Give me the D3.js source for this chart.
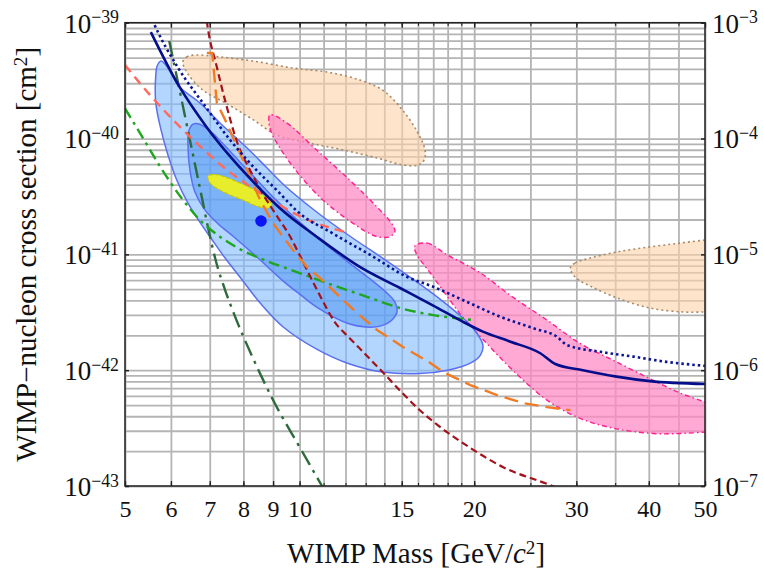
<!DOCTYPE html>
<html>
<head>
<meta charset="utf-8">
<script src="https://cdn.jsdelivr.net/npm/d3@7"></script>
<style>
  body { margin: 0; background: #fff; }
  svg { font-family: "Liberation Serif", "DejaVu Serif", serif; }
</style>
</head>
<body>
<div id="chart"></div>
<script>
// ---- axis / tick data ----
const xTickLabels = [5, 6, 7, 8, 9, 10, 15, 20, 30, 40, 50];
const xGridValues = [5, 6, 7, 8, 9, 10, 11, 12, 13, 14, 15, 16, 17, 18, 19, 20, 25, 30, 35, 40, 45, 50];
const yTickExps = [-43, -42, -41, -40, -39];
const yRightExps = [-7, -6, -5, -4, -3];
const yGridMultipliers = [1, 2, 3, 4, 5, 6, 7, 8, 9];

// ---- limit curves (mass GeV, cross section cm^2) ----
const siLimitMass = [5.54, 6.18, 6.91, 7.59, 8.22, 9.25, 10.7, 12.7, 14.9, 17.0, 18.9, 20.7, 23.1, 26.0, 27.6, 30.8, 35.2, 40.2, 50];
const siLimitSigma = [8.3e-40, 2.9e-40, 1.26e-40, 7.0e-41, 4.5e-41, 2.5e-41, 1.42e-41, 7.8e-42, 5.12e-42, 3.61e-42, 2.7e-42, 2.15e-42, 1.76e-42, 1.40e-42, 1.13e-42, 1.0e-42, 8.8e-43, 8.05e-43, 7.6e-43];

const siPrevMass = [5.48, 5.60, 6.18, 6.82, 7.59, 8.32, 9.13, 10.0, 11.4, 13.4, 15.3, 17.0, 19.4, 22.2, 25.3, 27.8, 28.9, 33.0, 37.6, 42.9, 50];
const siPrevSigma = [1.29e-39, 1.0e-39, 4.04e-40, 2.01e-40, 9.7e-41, 5.71e-41, 3.59e-41, 2.26e-41, 1.52e-41, 9.53e-42, 6.41e-42, 5.25e-42, 3.90e-42, 2.89e-42, 2.30e-42, 1.94e-42, 1.65e-42, 1.44e-42, 1.31e-42, 1.18e-42, 1.09e-42];

const salmonMass = [5.0, 5.52, 6.10, 6.73, 7.35, 8.05, 8.89, 10.0, 11.06, 11.97];
const salmonSigma = [4.31e-40, 2.38e-40, 1.39e-40, 8.61e-41, 5.79e-41, 4.13e-41, 3.01e-41, 2.14e-41, 1.75e-41, 1.56e-41];

const greenMass = [5.0, 5.37, 5.74, 6.22, 6.73, 7.29, 7.89, 8.79, 10.0, 11.4, 13.1, 14.9, 17.0, 19.9];
const greenSigma = [1.82e-40, 1.01e-40, 5.79e-41, 3.19e-41, 1.98e-41, 1.42e-41, 1.11e-41, 8.75e-42, 6.90e-42, 5.43e-42, 4.28e-42, 3.44e-42, 2.99e-42, 2.71e-42];

const dkGreenMass = [5.96, 6.22, 6.47, 6.76, 6.95, 7.18, 7.44, 7.71, 8.31, 9.0, 10.0, 10.93, 11.3];
const dkGreenSigma = [6.95e-40, 2.52e-40, 9.7e-41, 3.38e-41, 1.72e-41, 8.59e-42, 4.92e-42, 3.05e-42, 1.27e-42, 5.52e-43, 2.17e-43, 1.0e-43, 7.5e-44];

const dkRedMass = [6.88, 6.92, 7.20, 7.50, 7.80, 8.22, 8.65, 9.14, 9.62, 10.0, 10.85, 11.5, 12.2, 12.97, 13.9, 15.1, 16.1, 17.3, 19.7, 22.4, 27.0, 28.7];
const dkRedSigma = [1.3e-39, 1.03e-39, 4.14e-40, 1.83e-40, 9.33e-41, 5.3e-41, 3.3e-41, 2.14e-41, 1.44e-41, 9.86e-42, 4.37e-42, 2.60e-42, 1.89e-42, 1.38e-42, 9.63e-43, 6.22e-43, 4.53e-43, 3.36e-43, 2.13e-43, 1.46e-43, 1.02e-43, 9e-44];

const orangeMass = [6.92, 7.07, 7.12, 7.20, 7.44, 7.67, 7.89, 8.22, 8.55, 9.0, 9.37, 9.74, 10.3, 10.85, 11.74, 12.56, 13.6, 15.1, 16.6, 17.7, 19.7, 21.9, 24.3, 26.7, 29.3];
const orangeSigma = [5.47e-40, 5.47e-40, 3.68e-40, 2.03e-40, 1.45e-40, 1.03e-40, 7.5e-41, 4.66e-41, 2.94e-41, 1.86e-41, 1.41e-41, 1.09e-41, 7.77e-42, 6.24e-42, 4.28e-42, 3.11e-42, 2.22e-42, 1.58e-42, 1.20e-42, 9.6e-43, 7.43e-43, 6.10e-43, 5.2e-43, 4.8e-43, 4.52e-43];

// ---- allowed regions (closed contours) ----
const blueOuterMass = [5.68, 5.77, 5.88, 6.03, 6.18, 6.73, 7.29, 8.12, 8.79, 9.44, 10.7, 12.2, 13.9, 14.9, 16.1, 17.46, 18.7, 19.9, 20.7, 20.5, 19.7, 18.0, 16.1, 13.9, 12.2, 10.7, 9.37, 8.55, 7.89, 7.44, 7.07, 6.73, 6.42, 6.14, 5.93, 5.77, 5.65, 5.65];
const blueOuterSigma = [4.23e-40, 4.67e-40, 4.31e-40, 3.53e-40, 2.84e-40, 2.03e-40, 1.36e-40, 8.28e-41, 5.56e-41, 3.89e-41, 2.32e-41, 1.44e-41, 9.29e-42, 7.32e-42, 5.56e-42, 4.11e-42, 3.11e-42, 2.31e-42, 1.65e-42, 1.35e-42, 1.15e-42, 1.0e-42, 9.35e-43, 9.63e-43, 1.13e-42, 1.52e-42, 2.36e-42, 3.80e-42, 6.37e-42, 9.29e-42, 1.33e-41, 1.90e-41, 2.77e-41, 4.38e-41, 7.2e-41, 1.18e-40, 2.03e-40, 3.53e-40];

const blueInnerMass = [6.42, 6.47, 6.60, 6.87, 7.24, 7.67, 8.44, 9.37, 10.0, 10.7, 12.2, 13.0, 13.77, 14.43, 14.72, 14.6, 14.09, 13.1, 11.4, 10.0, 9.0, 8.38, 7.89, 7.44, 7.07, 6.73, 6.55, 6.44];
const blueInnerSigma = [8.79e-41, 5.35e-41, 3.45e-41, 2.41e-41, 1.83e-41, 1.44e-41, 9.48e-42, 5.88e-42, 4.54e-42, 3.51e-42, 2.50e-42, 2.36e-42, 2.40e-42, 2.71e-42, 3.18e-42, 3.87e-42, 4.72e-42, 6.37e-42, 1.09e-41, 1.90e-41, 3.12e-41, 4.56e-41, 6.27e-41, 8.61e-41, 1.12e-40, 1.33e-40, 1.33e-40, 1.16e-40];

const yellowMass = [6.95, 7.14, 7.44, 7.89, 8.38, 8.72, 8.96, 8.82, 8.44, 7.99, 7.59, 7.24, 7.01];
const yellowSigma = [4.74e-41, 4.89e-41, 4.66e-41, 4.13e-41, 3.59e-41, 3.12e-41, 2.67e-41, 2.51e-41, 2.61e-41, 2.94e-41, 3.25e-41, 3.66e-41, 4.13e-41];

const tanUpperMass = [6.29, 6.39, 6.60, 7.29, 8.32, 9.74, 11.15, 12.7, 13.9, 14.9, 15.9, 16.45, 16.4, 16.0, 15.1, 13.6, 11.9, 10.4, 9.14, 8.32, 7.50, 6.81, 6.42];
const tanUpperSigma = [4.58e-40, 5.06e-40, 5.26e-40, 5.06e-40, 4.67e-40, 4.06e-40, 3.75e-40, 3.20e-40, 2.62e-40, 1.87e-40, 1.18e-40, 7.96e-41, 6.53e-41, 5.90e-41, 5.90e-41, 6.79e-41, 7.96e-41, 9.14e-41, 1.07e-40, 1.45e-40, 1.99e-40, 2.62e-40, 3.61e-40];

const tanRightMass = [29.3, 29.85, 31.7, 35.3, 40.2, 45.3, 50, 53, 53, 50, 45.8, 40.2, 35.3, 31.7, 29.85];
const tanRightSigma = [7.62e-42, 8.41e-42, 9.29e-42, 1.05e-41, 1.16e-41, 1.25e-41, 1.33e-41, 1.38e-41, 3.18e-42, 3.18e-42, 3.18e-42, 3.44e-42, 4.2e-42, 5.32e-42, 6.37e-42];

const pinkUpperMass = [8.89, 9.51, 10.7, 12.2, 13.6, 14.43, 14.6, 14.2, 13.5, 12.2, 10.97, 10.0, 9.25, 8.89];
const pinkUpperSigma = [1.60e-40, 1.36e-40, 7.96e-41, 4.38e-41, 2.56e-41, 1.83e-41, 1.56e-41, 1.41e-41, 1.44e-41, 1.94e-41, 2.94e-41, 4.84e-41, 8.28e-41, 1.23e-40];

const pinkLowerMass = [15.8, 16.6, 18.0, 20.5, 23.3, 26.7, 30.4, 34.7, 39.7, 45.3, 50, 53, 53, 50, 45.3, 40.7, 34.7, 30.4, 26.7, 23.3, 21.0, 19.1, 18.0, 16.8, 15.9];
const pinkLowerSigma = [1.18e-41, 1.25e-41, 9.86e-42, 6.9e-42, 4.28e-42, 2.71e-42, 1.71e-42, 1.22e-42, 8.7e-43, 6.34e-43, 5.31e-43, 4.71e-43, 2.98e-43, 2.92e-43, 2.84e-43, 2.84e-43, 3.16e-43, 3.85e-43, 5.52e-43, 1.0e-42, 1.71e-42, 2.88e-42, 4.28e-42, 6.9e-42, 1.01e-41];

const bestFitMass = [8.58];
const bestFitSigma = [1.94e-41];

// ---- layout ----
const W = 763, H = 573;
const X0 = 125, X1 = 705, Y0 = 22.7, Y1 = 486;

const svg = d3.select("#chart").append("svg")
  .attr("width", W)
  .attr("height", H);

const x = d3.scaleLog().domain([5, 50]).range([X0, X1]);
const y = d3.scaleLog().domain([1e-43, 1e-39]).range([Y1, Y0]);
const yR = d3.scaleLog().domain([1e-7, 1e-3]).range([Y1, Y0]);

const zip = (ms, ss) => ms.map((m, i) => [m, ss[i]]);

// grid
const yGrid = [];
yTickExps.slice(0, -1).forEach(e => yGridMultipliers.forEach(k => yGrid.push(k * Math.pow(10, e))));
yGrid.push(1e-39);

svg.append("g")
  .attr("transform", `translate(0,${Y1})`)
  .call(d3.axisBottom(x).tickValues(xGridValues).tickSize(-(Y1 - Y0)).tickFormat(""))
  .call(g => g.select(".domain").remove())
  .selectAll("line").attr("stroke", "#b4b4b4").attr("stroke-width", 1.8);

svg.append("g")
  .attr("transform", `translate(${X0},0)`)
  .call(d3.axisLeft(y).tickValues(yGrid).tickSize(-(X1 - X0)).tickFormat(""))
  .call(g => g.select(".domain").remove())
  .selectAll("line").attr("stroke", "#b4b4b4").attr("stroke-width", 1.8);

svg.append("clipPath").attr("id", "plot")
  .append("rect").attr("x", X0).attr("y", Y0).attr("width", X1 - X0).attr("height", Y1 - Y0);

const plot = svg.append("g").attr("clip-path", "url(#plot)");

const area = d3.line().x(d => x(d[0])).y(d => y(d[1])).curve(d3.curveCatmullRomClosed.alpha(0.5));
const smooth = d3.line().x(d => x(d[0])).y(d => y(d[1])).curve(d3.curveMonotoneX);
const straight = d3.line().x(d => x(d[0])).y(d => y(d[1]));

function region(ms, ss, fill, opacity, stroke, dash, sw) {
  plot.append("path")
    .attr("d", area(zip(ms, ss)))
    .attr("fill", fill)
    .attr("fill-opacity", opacity)
    .attr("stroke", stroke)
    .attr("stroke-width", sw)
    .attr("stroke-dasharray", dash);
}

region(tanUpperMass, tanUpperSigma, "#fbd2a6", 0.6, "#a88a6a", "2,3", 1.6);
region(tanRightMass, tanRightSigma, "#fbd2a6", 0.6, "#a88a6a", "2,3", 1.6);
region(pinkUpperMass, pinkUpperSigma, "#ff88c4", 0.72, "#ff1f8f", "5,3,1.5,3", 1.4);
region(pinkLowerMass, pinkLowerSigma, "#ff88c4", 0.72, "#ff1f8f", "5,3,1.5,3", 1.4);
region(blueOuterMass, blueOuterSigma, "#7fbaff", 0.6, "#5b6ff2", null, 1.5);
region(blueInnerMass, blueInnerSigma, "#4f95f2", 0.55, "#5b6ff2", null, 1.5);
region(yellowMass, yellowSigma, "#eef020", 0.95, "#c9c400", "4,2", 1.2);

function curve(ms, ss, gen, color, width, dash) {
  plot.append("path")
    .attr("d", gen(zip(ms, ss)))
    .attr("fill", "none")
    .attr("stroke", color)
    .attr("stroke-width", width)
    .attr("stroke-dasharray", dash);
}

curve(dkGreenMass, dkGreenSigma, smooth, "#2f6a3c", 2.4, "16,6,3,6");
curve(greenMass, greenSigma, smooth, "#1fa61f", 2.4, "11,5,3,5");
curve(salmonMass, salmonSigma, smooth, "#ff6a5c", 2.4, "9,6");
curve(dkRedMass, dkRedSigma, smooth, "#a3121b", 2.2, "7,4");
curve(orangeMass, orangeSigma, straight, "#f27a22", 2.4, "14,7");
curve(siPrevMass, siPrevSigma, smooth, "#0a1596", 2.6, "2.5,3");
curve(siLimitMass, siLimitSigma, smooth, "#050e8a", 2.6, null);

plot.selectAll("circle.best")
  .data(zip(bestFitMass, bestFitSigma))
  .join("circle")
  .attr("class", "best")
  .attr("cx", d => x(d[0]))
  .attr("cy", d => y(d[1]))
  .attr("r", 5.8)
  .attr("fill", "#0a14f5");

// frame
svg.append("rect")
  .attr("x", X0).attr("y", Y0)
  .attr("width", X1 - X0).attr("height", Y1 - Y0)
  .attr("fill", "none").attr("stroke", "#222").attr("stroke-width", 1.5);

// axes
function powLabels(g) {
  g.selectAll(".tick text").each(function(d) {
    const t = d3.select(this);
    const e = Math.round(Math.log10(d));
    t.text(null);
    t.append("tspan").text("10");
    t.append("tspan").attr("dy", "-0.52em").attr("font-size", "0.66em").text("\u2212" + Math.abs(e));
  });
}

const axisL = svg.append("g")
  .attr("transform", `translate(${X0},0)`)
  .call(d3.axisLeft(y).tickValues(yTickExps.map(e => Math.pow(10, e))).tickSize(-4).tickPadding(6));
axisL.select(".domain").remove();
axisL.attr("font-family", null).attr("font-size", 27);
axisL.selectAll(".tick line").attr("stroke", "#222").attr("stroke-width", 1.5);
axisL.selectAll(".tick text").attr("fill", "#111").attr("dy", "0.35em");
powLabels(axisL);

const axisR = svg.append("g")
  .attr("transform", `translate(${X1},0)`)
  .call(d3.axisRight(yR).tickValues(yRightExps.map(e => Math.pow(10, e))).tickSize(-4).tickPadding(7));
axisR.select(".domain").remove();
axisR.attr("font-family", null).attr("font-size", 27);
axisR.selectAll(".tick line").attr("stroke", "#222").attr("stroke-width", 1.5);
axisR.selectAll(".tick text").attr("fill", "#111").attr("dy", "0.35em");
powLabels(axisR);

// minor ticks along bottom and top
[[d3.axisBottom, Y1], [d3.axisTop, Y0]].forEach(([ax, pos]) => {
  svg.append("g")
    .attr("transform", `translate(0,${pos})`)
    .call(ax(x).tickValues(xGridValues).tickSize(-3).tickFormat(""))
    .call(g => g.select(".domain").remove())
    .selectAll(".tick line").attr("stroke", "#222").attr("stroke-width", 1.1);
});

const axisB = svg.append("g")
  .attr("transform", `translate(0,${Y1})`)
  .call(d3.axisBottom(x).tickValues(xTickLabels).tickSize(-5).tickPadding(14).tickFormat(d3.format("d")));
axisB.select(".domain").remove();
axisB.attr("font-family", null).attr("font-size", 24);
axisB.selectAll(".tick line").attr("stroke", "#222").attr("stroke-width", 1.3);
axisB.selectAll(".tick text").attr("fill", "#111");

const axisT = svg.append("g")
  .attr("transform", `translate(0,${Y0})`)
  .call(d3.axisTop(x).tickValues(xTickLabels).tickSize(-5).tickFormat(""));
axisT.select(".domain").remove();
axisT.selectAll(".tick line").attr("stroke", "#222").attr("stroke-width", 1.3);

// titles
const xTitle = svg.append("text")
  .attr("x", 416)
  .attr("y", 563)
  .attr("text-anchor", "middle")
  .attr("font-size", 29)
  .attr("fill", "#111");
xTitle.append("tspan").text("WIMP Mass [GeV/");
xTitle.append("tspan").attr("font-style", "italic").text("c");
xTitle.append("tspan").attr("dy", "-0.45em").attr("font-size", "0.66em").text("2");
xTitle.append("tspan").attr("dy", "0.3em").text("]");

const yTitle = svg.append("text")
  .attr("transform", `translate(36,${(Y0 + Y1) / 2}) rotate(-90)`)
  .attr("text-anchor", "middle")
  .attr("font-size", 29)
  .attr("fill", "#111");
yTitle.append("tspan").text("WIMP\u2212nucleon cross section [cm");
yTitle.append("tspan").attr("dy", "-0.45em").attr("font-size", "0.66em").text("2");
yTitle.append("tspan").attr("dy", "0.3em").text("]");
</script>
</body>
</html>
